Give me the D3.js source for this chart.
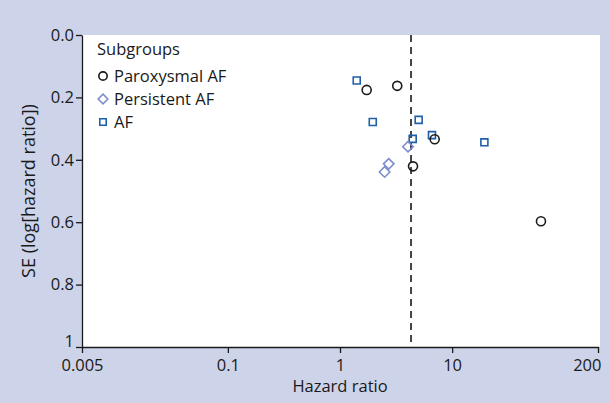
<!DOCTYPE html>
<html>
<head>
<meta charset="utf-8">
<script src="https://cdn.jsdelivr.net/npm/d3@7"></script>
<style>
  html, body { margin: 0; padding: 0; background: #cdd3e8; }
  svg { display: block; }
  text { font-family: "Open Sans", "Noto Sans", sans-serif; fill: #1a1a1a; }
</style>
</head>
<body>
<svg id="chart" width="610" height="403"></svg>
<script>
// Funnel plot: hazard ratio vs standard error of log hazard ratio, by subgroup
const subgroups = ["Paroxysmal AF", "Persistent AF", "AF"];

const paroxysmalHR = [1.73, 3.24, 6.99, 4.48, 62.0];
const paroxysmalSE = [0.176, 0.163, 0.334, 0.421, 0.597];

const persistentHR = [4.04, 2.72, 2.50];
const persistentSE = [0.358, 0.413, 0.439];

const afHR = [1.41, 1.96, 5.03, 4.45, 6.61, 19.4];
const afSE = [0.146, 0.279, 0.272, 0.333, 0.321, 0.344];

const pooledHR = 4.3;

const xTickValues = [0.005, 0.1, 1, 10, 200];
const xTickLabels = ["0.005", "0.1", "1", "10", "200"];
const yTickValues = [0, 0.2, 0.4, 0.6, 0.8, 1];
const yTickLabels = ["0.0", "0.2", "0.4", "0.6", "0.8", "1"];

const svg = d3.select("#chart");
const W = 610, H = 403;
const margin = { left: 82, right: 12, top: 35, bottom: 56 };
const plotW = W - margin.left - margin.right;
const plotH = H - margin.top - margin.bottom;

const x = d3.scaleLog().domain([0.005, 200]).range([margin.left, margin.left + plotW]);
const y = d3.scaleLinear().domain([0, 1]).range([margin.top, margin.top + plotH]);

// white plotting panel
svg.append("rect")
  .attr("x", margin.left).attr("y", margin.top)
  .attr("width", plotW + 2).attr("height", plotH)
  .attr("fill", "#ffffff");

// reference line at pooled estimate
svg.append("line")
  .attr("x1", x(pooledHR)).attr("x2", x(pooledHR))
  .attr("y1", y(0)).attr("y2", y(1))
  .attr("stroke", "#444").attr("stroke-width", 2)
  .attr("stroke-dasharray", "7,5");

// axes
const xAxis = d3.axisBottom(x)
  .tickValues(xTickValues)
  .tickFormat((d, i) => xTickLabels[i])
  .tickSize(6).tickSizeOuter(0).tickPadding(6);
const gx = svg.append("g").attr("transform", `translate(0,${y(1)})`).call(xAxis);

const yAxis = d3.axisLeft(y)
  .tickValues(yTickValues)
  .tickFormat((d, i) => yTickLabels[i])
  .tickSize(6).tickSizeOuter(0).tickPadding(2);
const gy = svg.append("g").attr("transform", `translate(${margin.left},0)`).call(yAxis);

[gx, gy].forEach(g => {
  g.select(".domain").attr("stroke", "#1a1a1a").attr("stroke-width", 1.3);
  g.selectAll(".tick line").attr("stroke", "#1a1a1a").attr("stroke-width", 1.3);
  g.selectAll(".tick text")
    .attr("font-family", "'Open Sans', 'Noto Sans', sans-serif")
    .attr("font-size", 16.5).attr("fill", "#1a1a1a");
});
// bottom-left label sits a little higher, right-most label is pulled inside the frame
gy.selectAll(".tick text").filter(d => d === 1).attr("dy", "-0.02em");
gx.selectAll(".tick text").filter(d => d === 200)
  .attr("text-anchor", "end").attr("dx", "3");

// axis titles
svg.append("text")
  .attr("x", (x(0.005) + x(200)) / 2).attr("y", 392)
  .attr("text-anchor", "middle").attr("font-size", 16.5)
  .text("Hazard ratio");

svg.append("text")
  .attr("transform", `translate(35,${(y(0) + y(1)) / 2}) rotate(-90)`)
  .attr("text-anchor", "middle").attr("font-size", 18)
  .text("SE (log[hazard ratio])");

// marker styles
const colors = { "Paroxysmal AF": "#1a1a1a", "Persistent AF": "#7d8fca", "AF": "#1f5fa8" };
const symbols = { "Paroxysmal AF": d3.symbolCircle, "Persistent AF": d3.symbolDiamond2, "AF": d3.symbolSquare2 };
const sizes = { "Paroxysmal AF": 64, "Persistent AF": 70, "AF": 62 };

function drawSeries(name, hr, se) {
  const pts = hr.map((h, i) => ({ h, s: se[i] }));
  svg.append("g").selectAll("path").data(pts).join("path")
    .attr("transform", d => `translate(${x(d.h)},${y(d.s)})`)
    .attr("d", d3.symbol().type(symbols[name]).size(sizes[name]))
    .attr("fill", "none")
    .attr("stroke", colors[name])
    .attr("stroke-width", 1.6);
}
drawSeries("AF", afHR, afSE);
drawSeries("Persistent AF", persistentHR, persistentSE);
drawSeries("Paroxysmal AF", paroxysmalHR, paroxysmalSE);

// legend
const legend = svg.append("g");
legend.append("text").attr("x", 97).attr("y", 55).attr("font-size", 16.5).text("Subgroups");
subgroups.forEach((name, i) => {
  const cy = 76 + i * 23;
  legend.append("path")
    .attr("transform", `translate(103,${cy})`)
    .attr("d", d3.symbol().type(symbols[name]).size(sizes[name] * 0.85))
    .attr("fill", "none").attr("stroke", colors[name]).attr("stroke-width", 1.6);
  legend.append("text").attr("x", 114).attr("y", cy + 6).attr("font-size", 16.5).text(name);
});
</script>
</body>
</html>
